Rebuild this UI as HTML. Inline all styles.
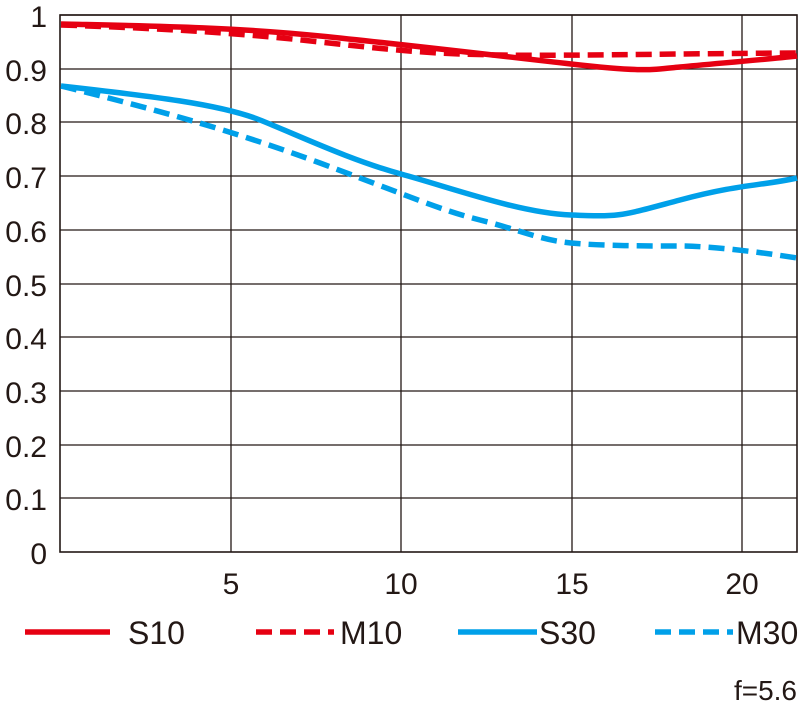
<!DOCTYPE html><html><head><style>body{margin:0;background:#fff}svg text{font-family:"Liberation Sans",sans-serif;fill:#231815}</style></head><body>
<svg width="805" height="703" viewBox="0 0 805 703">
<g stroke="#231815" stroke-width="1.3" fill="none">
<path d="M60 15H797M60 69H797M60 122H797M60 176H797M60 230H797M60 284H797M60 337H797M60 391H797M60 445H797M60 498H797"/>
<path d="M231 15V552M401 15V552M572 15V552M742 15V552"/>
<rect x="60" y="15" width="737" height="537" stroke-width="1.6"/>
</g>
<g font-size="30" text-anchor="end">
<text x="47" y="27">1</text><text x="47" y="81">0.9</text><text x="47" y="134">0.8</text><text x="47" y="188">0.7</text><text x="47" y="242">0.6</text><text x="47" y="296">0.5</text><text x="47" y="349">0.4</text><text x="47" y="403">0.3</text><text x="47" y="457">0.2</text><text x="47" y="510">0.1</text><text x="47" y="564">0</text>
</g>
<g font-size="30" text-anchor="middle"><text x="231" y="594">5</text><text x="401" y="594">10</text><text x="572" y="594">15</text><text x="742" y="594">20</text></g>
<g fill="none" stroke-width="5.5">
<path stroke="#e60012" d="M61 24C150 26 231 27 320 36S500 56 571 64S650 70 680 67S760 60 797 56"/>
<path stroke="#e60012" stroke-dasharray="16 8" d="M61 25C150 28 231 32 320 42S440 54 500 55S640 54 797 53"/>
<path stroke="#00a0e9" d="M61 86C150 96 220 104 260 120S350 160 401 174S520 213 571 215S620 216 680 200S760 186 797 178"/>
<path stroke="#00a0e9" stroke-dasharray="16 8" d="M61 86C150 108 231 130 320 163S440 210 480 220S540 240 571 243S650 246 680 246S760 252 797 258"/>
</g>
<g stroke-width="5.5">
<path stroke="#e60012" d="M25 632H110"/><path stroke="#e60012" stroke-dasharray="16 8" d="M256 632H334"/>
<path stroke="#00a0e9" d="M458 632H537"/><path stroke="#00a0e9" stroke-dasharray="16 8" d="M655 632H733"/>
</g>
<g font-size="32"><text x="128" y="644">S10</text><text x="340" y="644">M10</text><text x="539" y="644">S30</text><text x="736" y="644">M30</text>
<text x="797" y="700" text-anchor="end" font-size="28">f=5.6</text></g>
</svg></body></html>
